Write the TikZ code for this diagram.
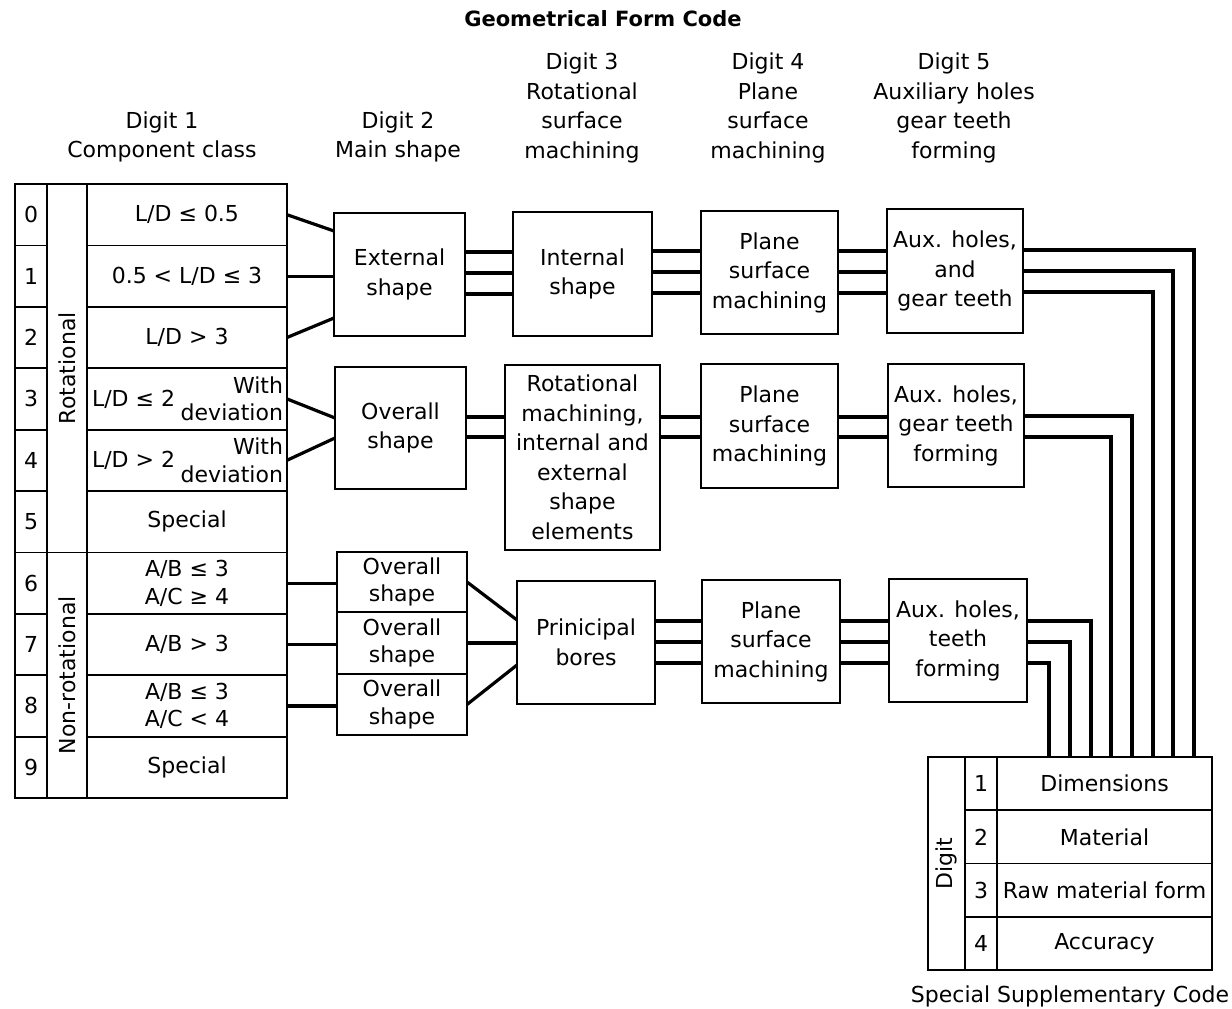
\documentclass[tikz,border=0pt]{standalone}
\usepackage{fontspec}
\setmainfont{DejaVu Sans}
\usetikzlibrary{calc}
\newcommand\bodyfont{\fontsize{22}{29.5}\selectfont}
\newcommand\tightfont{\fontsize{22}{27.5}\selectfont}
\begin{document}
\begin{tikzpicture}[x=1pt,y=-1pt,
  every node/.style={inner sep=0pt, outer sep=0pt, font=\bodyfont, align=center},
  box/.style={draw, line width=1.8pt},
  cell/.style={draw, line width=1.8pt},
  conn/.style={line width=3.2pt},
  ]
\useasboundingbox (0,0) rectangle (1232,1009);

% headings
\node[font=\fontsize{21}{24}\selectfont\bfseries] (title) at (603,19) {Geometrical Form Code};
\node (h1) at (162,137) {Digit 1\\Component class};
\node (h2) at (398,137) {Digit 2\\Main shape};
\node (h3) at (582,108) {Digit 3\\Rotational\\surface\\machining};
\node (h4) at (768,108) {Digit 4\\Plane\\surface\\machining};
\node (h5) at (954,108) {Digit 5\\Auxiliary holes\\gear teeth\\forming};

% digit 1: component class table
\foreach \i in {0,...,9}
  \node[cell, minimum width=32pt, minimum height=61.4pt] (n\i) at (31,{214.7+61.4*\i}) {\i};
\node[cell, minimum width=40pt, minimum height=368.4pt] (rotc) at (67,368.2) {};
\node[rotate=90] (rotl) at (rotc) {Rotational};
\node[cell, minimum width=40pt, minimum height=245.6pt] (nrotc) at (67,675.2) {};
\node[rotate=90] (nrotl) at (nrotc) {Non-rotational};
\foreach \i in {0,...,9}
  \node[cell, minimum width=200pt, minimum height=61.4pt] (c\i) at (187,{214.7+61.4*\i}) {};

\node (l0) at (c0) {L/D ≤ 0.5};
\node (l1) at (c1) {0.5 < L/D ≤ 3};
\node (l2) at (c2) {L/D > 3};
\node[anchor=west] (l3a) at ([xshift=5pt]c3.west) {L/D ≤ 2};
\node[anchor=east, align=right, font=\tightfont] (l3b) at ([xshift=-4pt]c3.east) {With\\deviation};
\node[anchor=west] (l4a) at ([xshift=5pt]c4.west) {L/D > 2};
\node[anchor=east, align=right, font=\tightfont] (l4b) at ([xshift=-4pt]c4.east) {With\\deviation};
\node (l5) at (c5) {Special};
\node[font=\tightfont] (l6) at (c6) {A/B ≤ 3\\A/C ≥ 4};
\node (l7) at (c7) {A/B > 3};
\node[font=\tightfont] (l8) at (c8) {A/B ≤ 3\\A/C < 4};
\node (l9) at (c9) {Special};

% digit 2 to digit 5 boxes
\node[box, minimum width=131pt, minimum height=123pt] (ext) at (399.5,274.5) {External\\shape};
\node[box, minimum width=139pt, minimum height=124pt] (int) at (582.5,274) {Internal\\shape};
\node[box, minimum width=137pt, minimum height=123pt] (pl1) at (769.5,272.5) {Plane\\surface\\machining};
\node[box, minimum width=136pt, minimum height=124pt] (aux1) at (955,271) {Aux. holes,\\and\\gear teeth};

\node[box, minimum width=131pt, minimum height=122pt] (ov) at (400.5,428) {Overall\\shape};
\node[box, minimum width=155pt, minimum height=185pt] (rot) at (582.5,457.5) {Rotational\\machining,\\internal and\\external\\shape\\elements};
\node[box, minimum width=137pt, minimum height=124pt] (pl2) at (769.5,426) {Plane\\surface\\machining};
\node[box, minimum width=136pt, minimum height=123pt] (aux2) at (956,425.5) {Aux. holes,\\gear teeth\\forming};

\node[box, minimum width=130pt, minimum height=60pt, font=\tightfont] (ovA) at (402,582) {Overall\\shape};
\node[box, minimum width=130pt, minimum height=62pt, font=\tightfont] (ovB) at (402,643) {Overall\\shape};
\node[box, minimum width=130pt, minimum height=61pt, font=\tightfont] (ovC) at (402,704.5) {Overall\\shape};
\node[box, minimum width=138pt, minimum height=123pt] (pb) at (586,642.5) {Prinicipal\\bores};
\node[box, minimum width=138pt, minimum height=123pt] (pl3) at (771,641.5) {Plane\\surface\\machining};
\node[box, minimum width=138pt, minimum height=123pt] (aux3) at (958,640.5) {Aux. holes,\\teeth\\forming};

% supplementary code table
\node[cell, minimum width=37pt, minimum height=213pt] (sdig) at (946.5,863.5) {};
\node[rotate=90] (sdigl) at (sdig) {Digit};
\foreach \i in {1,...,4}
  \node[cell, minimum width=32pt, minimum height=53.25pt] (k\i) at (981,{730.375+53.25*\i}) {\i};
\node[cell, minimum width=215pt, minimum height=53.25pt] (t1) at (1104.5,783.6) {Dimensions};
\node[cell, minimum width=215pt, minimum height=53.25pt] (t2) at (1104.5,836.9) {Material};
\node[cell, minimum width=215pt, minimum height=53.25pt] (t3) at (1104.5,890.1) {Raw material form};
\node[cell, minimum width=215pt, minimum height=53.25pt] (t4) at (1104.5,943.4) {Accuracy};
\node (sup) at (1070,996) {Special Supplementary Code};

% class rows into digit 2
\draw[conn] (c0.east) -- (ext.west |- 0,231);
\draw[conn] (c1.east) -- (ext.west |- c1.east);
\draw[conn] (c2.east) -- (ext.west |- 0,318);
\draw[conn] (c3.east) -- (ov.west |- 0,418);
\draw[conn] (c4.east) -- (ov.west |- 0,438);
\draw[conn] (c6.east) -- (ovA.west |- c6.east);
\draw[conn] (c7.east) -- (ovB.west |- c7.east);
\draw[conn] (c8.east) -- (ovC.west |- c8.east);

% rotational, short parts
\foreach \y in {252,273,294}
  \draw[conn] (ext.east |- 0,\y) -- (int.west |- 0,\y);
\foreach \y in {251,272,293} {
  \draw[conn] (int.east |- 0,\y) -- (pl1.west |- 0,\y);
  \draw[conn] (pl1.east |- 0,\y) -- (aux1.west |- 0,\y);
}
% rotational with deviation
\foreach \y in {417,437} {
  \draw[conn] (ov.east |- 0,\y) -- (rot.west |- 0,\y);
  \draw[conn] (rot.east |- 0,\y) -- (pl2.west |- 0,\y);
  \draw[conn] (pl2.east |- 0,\y) -- (aux2.west |- 0,\y);
}
% non-rotational
\draw[conn] (ovA.east) -- (pb.west |- 0,620);
\draw[conn] (ovB.east) -- (pb.west |- ovB.east);
\draw[conn] (ovC.east) -- (pb.west |- 0,665);
\foreach \y in {621,642,663} {
  \draw[conn] (pb.east |- 0,\y) -- (pl3.west |- 0,\y);
  \draw[conn] (pl3.east |- 0,\y) -- (aux3.west |- 0,\y);
}

% digit 5 outputs down to the supplementary code
\draw[conn] (aux1.east |- 0,250) -| ([xshift=197pt]t1.north west);
\draw[conn] (aux1.east |- 0,271) -| ([xshift=176pt]t1.north west);
\draw[conn] (aux1.east |- 0,292) -| ([xshift=156pt]t1.north west);
\draw[conn] (aux2.east |- 0,416) -| ([xshift=135pt]t1.north west);
\draw[conn] (aux2.east |- 0,437) -| ([xshift=114pt]t1.north west);
\draw[conn] (aux3.east |- 0,621) -| ([xshift=94pt]t1.north west);
\draw[conn] (aux3.east |- 0,642) -| ([xshift=73pt]t1.north west);
\draw[conn] (aux3.east |- 0,663) -| ([xshift=52pt]t1.north west);
\end{tikzpicture}
\end{document}
